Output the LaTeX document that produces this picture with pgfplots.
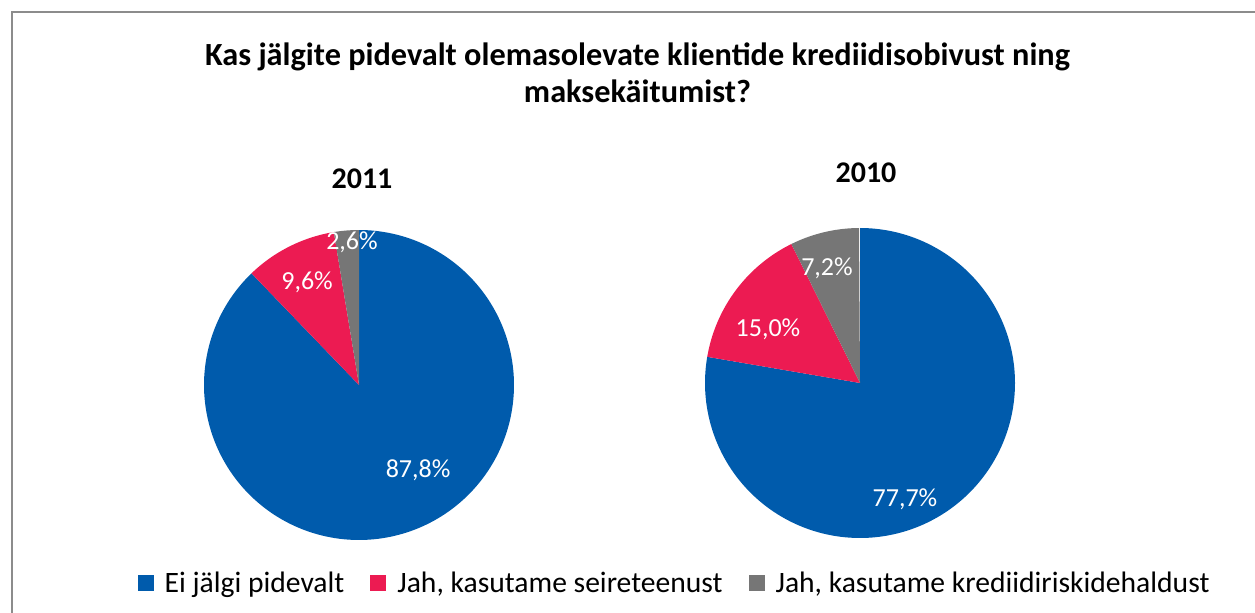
\documentclass[border=0pt]{standalone}
\usepackage{fontspec}
\setmainfont{Carlito}
\usepackage{pgfplots}
\usepackage{pgfplotstable}
\pgfplotsset{compat=1.18}
\definecolor{cblue}{HTML}{005BAC}
\definecolor{cpink}{HTML}{EC1B52}
\definecolor{cgray}{HTML}{767676}
\definecolor{cframe}{HTML}{8C8C8C}

\pgfplotstableread{
cat y2011 y2010
0 87.8 77.7
1 9.6 15.0
2 2.6 7.2
}\piedata
\pgfplotstablegetelem{0}{y2011}\of\piedata \let\pA\pgfplotsretval
\pgfplotstablegetelem{1}{y2011}\of\piedata \let\pB\pgfplotsretval
\pgfplotstablegetelem{2}{y2011}\of\piedata \let\pC\pgfplotsretval
\pgfplotstablegetelem{0}{y2010}\of\piedata \let\qA\pgfplotsretval
\pgfplotstablegetelem{1}{y2010}\of\piedata \let\qB\pgfplotsretval
\pgfplotstablegetelem{2}{y2010}\of\piedata \let\qC\pgfplotsretval
\pgfmathsetmacro\aA{90-3.6*\pA}
\pgfmathsetmacro\aB{\aA-3.6*\pB}
\pgfmathsetmacro\aC{\aB-3.6*\pC}
\pgfmathsetmacro\bA{90-3.6*\qA}
\pgfmathsetmacro\bB{\bA-3.6*\qB}
\pgfmathsetmacro\bC{\bB-3.6*\qC}
\pgfplotsset{
  pie/.style={scale only axis, width=310bp, height=310bp,
    xmin=-1, xmax=1, ymin=-1, ymax=1, hide axis, clip=false, anchor=center},
}
\tikzset{pielabel/.style={font=\fontsize{26bp}{31bp}\selectfont, text=white}}

\begin{document}
\begin{tikzpicture}
\draw[cframe, line width=2bp] (12bp,0bp) -- (12bp,601bp) -- (1255bp,601bp);

\node[font=\fontsize{32.3bp}{38bp}\selectfont\bfseries, anchor=base] at (637.5bp,547bp)
  {Kas jälgite pidevalt olemasolevate klientide krediidisobivust ning};
\node[font=\fontsize{32.3bp}{38bp}\selectfont\bfseries, anchor=base] at (637.5bp,510bp)
  {maksekäitumist?};
\node[font=\fontsize{30bp}{36bp}\selectfont\bfseries, anchor=base] at (362bp,424bp) {2011};
\node[font=\fontsize{30bp}{36bp}\selectfont\bfseries, anchor=base] at (866bp,430bp) {2010};

\begin{axis}[pie, at={(359bp,228bp)},
  legend columns=3,
  legend style={at={(axis description cs:1.518,-0.139)}, anchor=center,
    draw=none, fill=none, font=\fontsize{29.6bp}{35bp}\selectfont,
    /tikz/every even column/.append style={column sep=24bp}},
  legend image code/.code={\fill[#1] (0bp,-8bp) rectangle (16bp,8bp); \path (25bp,0bp);},
]
\addplot[fill=cblue, draw=none, domain=\aA:90, samples=200] ({cos(x)},{sin(x)}) -- (axis cs:0,0) -- cycle;
\addlegendentry{Ei jälgi pidevalt}
\addplot[fill=cpink, draw=none, domain=\aB:\aA, samples=60] ({cos(x)},{sin(x)}) -- (axis cs:0,0) -- cycle;
\addlegendentry{Jah, kasutame seireteenust}
\addplot[fill=cgray, draw=none, domain=\aC:\aB, samples=20] ({cos(x)},{sin(x)}) -- (axis cs:0,0) -- cycle;
\addlegendentry{Jah, kasutame krediidiriskidehaldust}
\node[pielabel] at (axis cs:0.381,-0.548) {87,8\%};
\node[pielabel] at (axis cs:-0.335,0.665) {9,6\%};
\node[pielabel] at (axis cs:-0.045,0.923) {2,6\%};
\end{axis}

\begin{axis}[pie, at={(860bp,230bp)}]
\addplot[fill=cblue, draw=none, domain=\bA:90, samples=200] ({cos(x)},{sin(x)}) -- (axis cs:0,0) -- cycle;
\addplot[fill=cpink, draw=none, domain=\bB:\bA, samples=60] ({cos(x)},{sin(x)}) -- (axis cs:0,0) -- cycle;
\addplot[fill=cgray, draw=none, domain=\bC:\bB, samples=30] ({cos(x)},{sin(x)}) -- (axis cs:0,0) -- cycle;
\node[pielabel] at (axis cs:0.29,-0.748) {77,7\%};
\node[pielabel] at (axis cs:-0.594,0.348) {15,0\%};
\node[pielabel] at (axis cs:-0.213,0.742) {7,2\%};
\end{axis}
\pgfresetboundingbox
\path[use as bounding box] (0bp,0bp) rectangle (1255bp,613bp);
\end{tikzpicture}
\end{document}
